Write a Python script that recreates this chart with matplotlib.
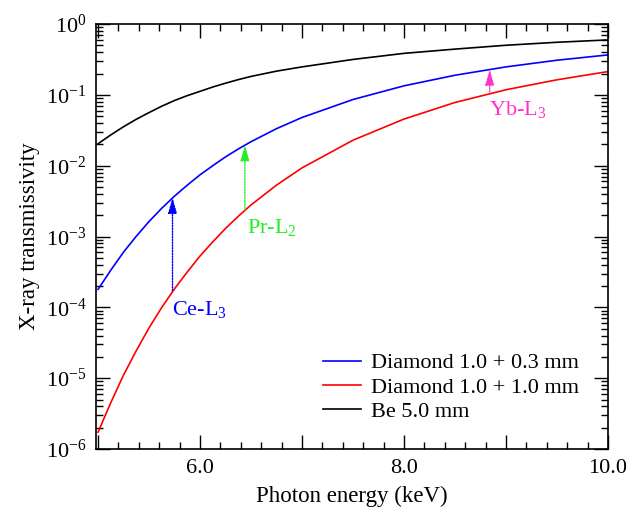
import matplotlib
matplotlib.use("Agg")
import matplotlib.pyplot as plt
from matplotlib.ticker import FixedLocator, MultipleLocator, LogLocator, FuncFormatter, NullFormatter

plt.rcParams['font.family'] = ['Liberation Serif', 'DejaVu Serif']
plt.rcParams['mathtext.fontset'] = 'custom'
plt.rcParams['mathtext.rm'] = 'Liberation Serif'
plt.rcParams['mathtext.it'] = 'Liberation Serif:italic'
plt.rcParams['font.size'] = 16

energy = [5.0, 5.125, 5.25, 5.375, 5.5, 5.625, 5.75, 5.875, 6.0, 6.125, 6.25, 6.375, 6.5,
          6.75, 7.0, 7.5, 8.0, 8.5, 9.0, 9.5, 10.0]

# Be 5.0 mm
be_t = [0.0204, 0.0272, 0.0355, 0.0452, 0.0562, 0.0692, 0.0832, 0.0975, 0.112, 0.129,
        0.146, 0.164, 0.182, 0.216, 0.248, 0.316, 0.385, 0.442, 0.501, 0.552, 0.596]

# Diamond 1.0 + 0.3 mm
d13_t = [1.795e-4, 3.35e-4, 6.03e-4, 1.01e-3, 1.63e-3, 2.51e-3, 3.72e-3, 5.31e-3, 7.43e-3,
         0.0100, 0.0133, 0.0172, 0.0218, 0.0333, 0.0479, 0.0859, 0.134, 0.189, 0.248,
         0.308, 0.366]

# Diamond 1.0 + 1.0 mm
d20_t = [1.73e-6, 4.52e-6, 1.11e-5, 2.45e-5, 5.14e-5, 1.0e-4, 1.83e-4, 3.16e-4, 5.31e-4,
         8.41e-4, 1.30e-3, 1.93e-3, 2.79e-3, 5.32e-3, 9.31e-3, 0.0229, 0.0455, 0.078,
         0.118, 0.163, 0.213]

# absorption edges
edge_e = [5.73, 6.44, 8.84]
edge_lo = [1.72e-4, 2.36e-3, 0.110]
edge_hi = [3.55e-3, 0.0196, 0.229]
edge_lab = ['Ce-L$_3$', 'Pr-L$_2$', 'Yb-L$_3$']
edge_col = ['#0000ff', '#22ee22', '#ff33cc']
edge_txt_e = [5.725, 6.465, 8.83]
edge_txt_t = [9.4e-5, 1.34e-3, 0.0615]

fig = plt.figure(figsize=(6.26, 5.16), dpi=100)
ax = fig.add_axes([0.1534, 0.1298, 0.8178, 0.8237])

ax.plot(energy, d13_t, color='#0000ff', lw=1.2, label='Diamond 1.0 + 0.3 mm')
ax.plot(energy, d20_t, color='#ff0000', lw=1.2, label='Diamond 1.0 + 1.0 mm')
ax.plot(energy, be_t, color='black', lw=1.2, label='Be 5.0 mm')

for e, lo, hi, lab, c, te, tt in zip(edge_e, edge_lo, edge_hi, edge_lab, edge_col, edge_txt_e, edge_txt_t):
    ax.annotate('', xy=(e, hi), xytext=(e, lo),
                arrowprops=dict(arrowstyle='-|>,head_length=0.95,head_width=0.27',
                                linestyle=(0, (1, 1)), lw=1.0, color=c,
                                shrinkA=0, shrinkB=0, mutation_scale=10))
    ax.text(te, tt, lab, color=c, ha='left', va='center', fontsize=16)

ax.set_yscale('log')
ax.set_xlim(4.98, 10.0)
ax.set_ylim(1e-6, 1)

ax.xaxis.set_major_locator(FixedLocator([5, 6, 7, 8, 9, 10]))
ax.xaxis.set_major_formatter(FuncFormatter(lambda v, p: '%.1f' % v if round(v) in (6, 8, 10) else ''))
ax.xaxis.set_minor_locator(MultipleLocator(0.2))
ax.yaxis.set_major_locator(LogLocator(base=10, numticks=10))
ax.yaxis.set_minor_locator(LogLocator(base=10, subs=range(2, 10), numticks=20))
ax.yaxis.set_minor_formatter(NullFormatter())

ax.tick_params(which='both', direction='in', top=True, right=True, width=1.0, labelsize=16)
ax.tick_params(which='major', length=10, pad=7)
ax.tick_params(which='minor', length=5)
for s in ax.spines.values():
    s.set_linewidth(1.2)

ax.set_xlabel('Photon energy (keV)', fontsize=16.5, labelpad=6)
ax.set_ylabel('X-ray transmissivity', fontsize=16.5, labelpad=4)

ax.legend(loc='upper left', bbox_to_anchor=(0.516, 0.316), bbox_transform=fig.transFigure,
          frameon=False, fontsize=16, handlelength=1.7, handletextpad=0.45,
          labelspacing=0.17, borderpad=0, borderaxespad=0)

fig.savefig('out.png', dpi=100)
